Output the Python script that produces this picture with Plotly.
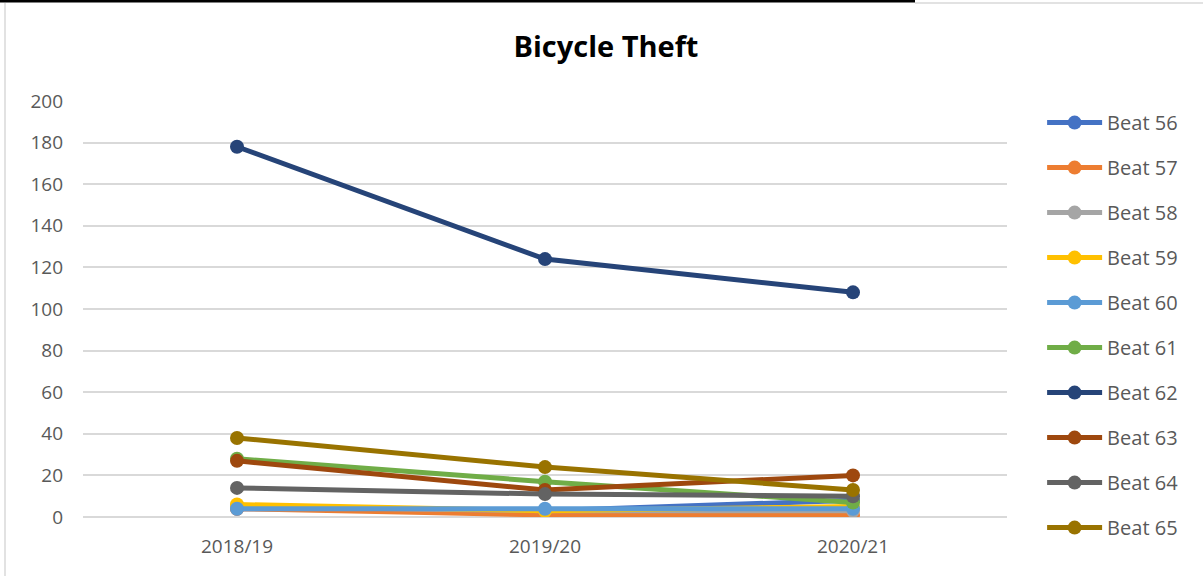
import plotly.graph_objects as go

categories = ["2018/19", "2019/20", "2020/21"]
series_names = ["Beat 56", "Beat 57", "Beat 58", "Beat 59", "Beat 60",
                "Beat 61", "Beat 62", "Beat 63", "Beat 64", "Beat 65"]
beat56 = [4, 3, 8]
beat57 = [4, 1, 1]
beat58 = [5, 3, 3]
beat59 = [6, 3, 5]
beat60 = [4, 4, 4]
beat61 = [28, 17, 7]
beat62 = [178, 124, 108]
beat63 = [27, 13, 20]
beat64 = [14, 11, 10]
beat65 = [38, 24, 13]
values = [beat56, beat57, beat58, beat59, beat60, beat61, beat62, beat63, beat64, beat65]
colors = ["#4472C4", "#ED7D31", "#A5A5A5", "#FFC000", "#5B9BD5",
          "#70AD47", "#264478", "#9E480E", "#636363", "#997300"]
y_ticks = [0, 20, 40, 60, 80, 100, 120, 140, 160, 180, 200]

FONT = "Open Sans"

fig = go.Figure()
for i, (name, vals, col) in enumerate(zip(series_names, values, colors)):
    fig.add_trace(go.Scatter(
        x=categories, y=vals, name=name, mode="lines+markers",
        line=dict(color=col, width=5),
        marker=dict(color=col, size=14),
        legendgroup=name,
    ))

fig.update_layout(
    width=1203, height=576,
    paper_bgcolor="white", plot_bgcolor="white",
    margin=dict(l=83, r=196, t=101, b=59),
    title=dict(text="<b>Bicycle Theft</b>", x=0.566, xanchor="center",
               y=0.918, yanchor="middle", xref="paper",
               font=dict(family=FONT, size=29, color="#000000")),
    font=dict(family=FONT, size=19, color="#595959"),
    xaxis=dict(type="category", showgrid=False, showline=False, ticks="",
               tickfont=dict(size=19, color="#595959"), range=[-0.5, 2.5],
               ticklabelstandoff=16),
    yaxis=dict(range=[0, 200], tickvals=y_ticks, showgrid=True,
               gridcolor="#D9D9D9", gridwidth=1.5, zeroline=True,
               zerolinecolor="#D9D9D9", zerolinewidth=1.5,
               tickfont=dict(size=19, color="#595959"), ticks="",
               ticklabelstandoff=19),
    legend=dict(x=1.038, y=0.995, xanchor="left", yanchor="top",
                font=dict(size=20, color="#595959"),
                traceorder="grouped", tracegroupgap=16,
                itemwidth=55, bgcolor="rgba(0,0,0,0)", maxheight=520),
    showlegend=True,
    shapes=[
        dict(type="line", xref="paper", yref="paper",
             x0=-83/924, x1=832/924, y0=1 + 100/416, y1=1 + 100/416,
             line=dict(color="black", width=3)),
        dict(type="line", xref="paper", yref="paper",
             x0=832/924, x1=1120/924, y0=1 + 98/416, y1=1 + 98/416,
             line=dict(color="#D9D9D9", width=1.5)),
        dict(type="line", xref="paper", yref="paper",
             x0=-78/924, x1=-78/924, y0=1 + 98/416, y1=-59/416,
             line=dict(color="#D9D9D9", width=1.5)),
    ],
)

fig.write_html("out.html",
               config={"displayModeBar": False},
               post_script="document.body.style.margin='0';document.body.style.padding='0';")
